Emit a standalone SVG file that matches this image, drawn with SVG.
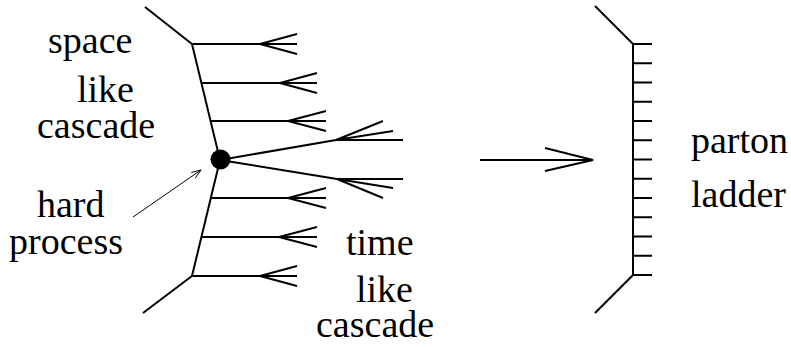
<svg xmlns="http://www.w3.org/2000/svg" width="791" height="347" viewBox="0 0 791 347">
<style>
  .ln { fill: none; stroke: #000; stroke-width: 2; stroke-linecap: butt; stroke-linejoin: miter; }
  .thin { fill: none; stroke: #000; stroke-width: 1; }
  text { font-family: "Liberation Serif", "Times New Roman", serif; font-size: 38px; fill: #000; }
</style>
<rect width="791" height="347" fill="#fff"/>

<g id="cascade">
  <!-- incoming spacelike legs and spine -->
  <path class="ln" d="M145,7 L192,44 L220,160 L192,276 L143,313"/>
  <!-- spacelike emissions -->
  <path class="ln" d="M192,44 H297 M260,44 L297,34 M260,44 L297,54"/>
  <path class="ln" d="M201.6,83 H317 M280,83 L317,73 M280,83 L317,93"/>
  <path class="ln" d="M210.7,121 H326 M288,121 L326,111 M288,121 L326,131"/>
  <path class="ln" d="M210.7,198 H326 M288,198 L326,188 M288,198 L326,208"/>
  <path class="ln" d="M201.3,237 H317 M279,237 L317,227 M279,237 L317,247"/>
  <path class="ln" d="M192,276 H297 M260,276 L297,266 M260,276 L297,286"/>
  <!-- hard process outgoing -->
  <path class="ln" d="M220,160 L336,140 H403 M336,140 L393,131 M336,140 L383,121"/>
  <path class="ln" d="M220,160 L337,179 H403 M337,179 L393,188 M337,179 L383,198"/>
</g>

<g id="hard-vertex">
  <circle cx="220.5" cy="159.5" r="10" fill="#000"/>
</g>

<g id="ladder">
  <path class="ln" d="M595,6 L633,44 V275 L595,313"/>
  <path class="ln" d="M633,44 H652 M633,63.25 H652 M633,82.5 H652 M633,101.75 H652 M633,121 H652 M633,140.25 H652 M633,159.5 H652 M633,178.75 H652 M633,198 H652 M633,217.25 H652 M633,236.5 H652 M633,255.75 H652 M633,275 H652"/>
</g>

<g id="connectors">
  <path class="thin" d="M133,217 L201,170 M191.3,172.5 L201,170 L195.2,178.2"/>
  <path class="ln" d="M480,160 H593 M545,148 L593,160 L545,171"/>
</g>

<g id="label-spacelike">
  <text x="48" y="53">space</text>
  <text x="77" y="102">like</text>
  <text x="37" y="138">cascade</text>
</g>
<g id="label-hard">
  <text x="37" y="217">hard</text>
  <text x="9" y="254">process</text>
</g>
<g id="label-timelike">
  <text x="346" y="255">time</text>
  <text x="356" y="302">like</text>
  <text x="316" y="337">cascade</text>
</g>
<g id="label-ladder">
  <text x="691" y="153">parton</text>
  <text x="691" y="207">ladder</text>
</g>
</svg>
